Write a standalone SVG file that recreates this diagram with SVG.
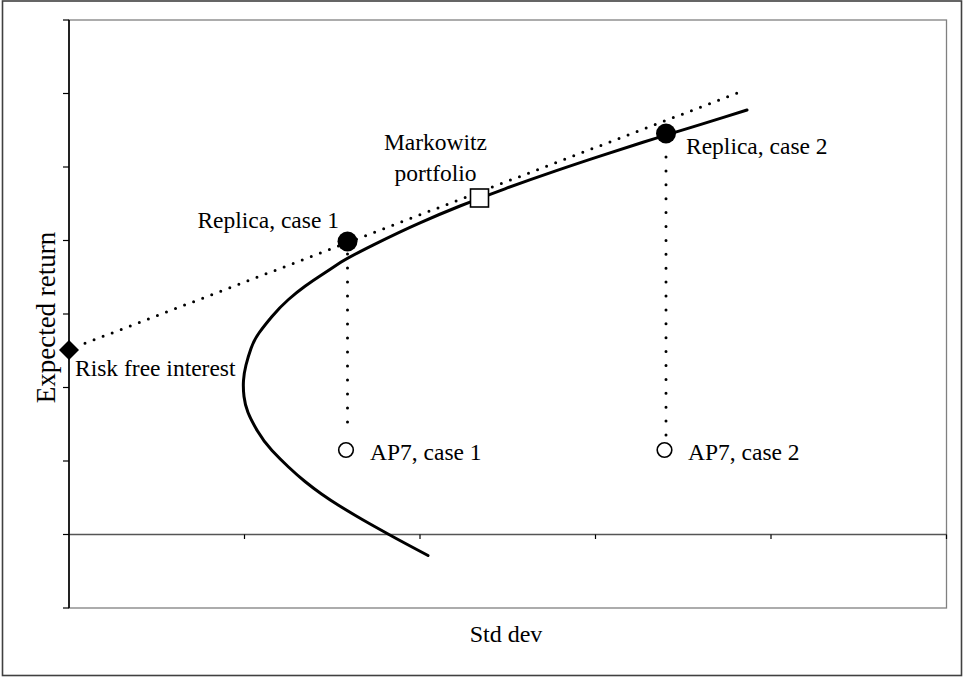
<svg xmlns="http://www.w3.org/2000/svg" width="964" height="677" viewBox="0 0 964 677">
<style>
text{font-family:"Liberation Serif","Times New Roman",serif;font-size:23.5px;fill:#000}
.tick{stroke:#000;stroke-width:1.2}
.dot{fill:none;stroke:#000;stroke-width:3;stroke-linecap:round}
</style>
<rect x="0" y="0" width="964" height="677" fill="#fff"/>
<rect x="2.5" y="1" width="959" height="674.5" fill="none" stroke="#404040" stroke-width="1.6"/>
<g id="plot-area">
<rect x="69" y="20" width="877.5" height="588" fill="none" stroke="#808080" stroke-width="1.3"/>
<line x1="69" y1="534.5" x2="946.5" y2="534.5" stroke="#555" stroke-width="1.4"/>
<line x1="69" y1="20" x2="69" y2="608" stroke="#000" stroke-width="1.6"/>
<g class="tick">
<line x1="63" y1="20" x2="69" y2="20"/>
<line x1="63" y1="93.5" x2="69" y2="93.5"/>
<line x1="63" y1="167" x2="69" y2="167"/>
<line x1="63" y1="240.5" x2="69" y2="240.5"/>
<line x1="63" y1="314" x2="69" y2="314"/>
<line x1="63" y1="387.5" x2="69" y2="387.5"/>
<line x1="63" y1="461" x2="69" y2="461"/>
<line x1="63" y1="534.5" x2="69" y2="534.5"/>
<line x1="63" y1="608" x2="69" y2="608"/>
<line x1="244.5" y1="534.5" x2="244.5" y2="539"/>
<line x1="420" y1="534.5" x2="420" y2="539"/>
<line x1="595.5" y1="534.5" x2="595.5" y2="539"/>
<line x1="771" y1="534.5" x2="771" y2="539"/>
<line x1="946.5" y1="534.5" x2="946.5" y2="539"/>
</g>
<text x="0" y="0" text-anchor="middle" style="font-size:27px" transform="translate(55,317.5) rotate(-90)">Expected return</text>
<text x="506" y="642" text-anchor="middle" style="font-size:24px">Std dev</text>
</g>
<g id="connectors">
<path id="frontier" d="M428 555.5 L412.5 547.25 Q397 539 388.5 534.25 Q380 529.5 371.5 524.75 Q363 520 355 515.25 Q347 510.5 338.5 505.25 Q330 500 321.5 494 Q313 488 305 481.5 Q297 475 288.5 467 Q280 459 272 450.5 Q264 442 257.5 431 Q251 420 248 412.5 Q245 405 244 396.5 Q243 388 243.5 380.5 Q244 373 246 365 Q248 357 251 348.5 Q254 340 259 333 Q264 326 272 316.5 Q280 307 288.5 299.5 Q297 292 305 286.25 Q313 280.5 321.5 275 Q330 269.5 338.5 263.75 Q347 258 373.5 244.8 Q400 231.6 420 222.8 Q440 214 460 206 Q480 198 505 188.8 Q530 179.6 555 171.1 Q580 162.6 600 156.1 Q620 149.6 643 142.3 Q666 135 683 129.85 Q700 124.7 723.5 117.35 L747 110" fill="none" stroke="#000" stroke-width="3" stroke-linejoin="round" stroke-linecap="round"/>
<line id="capital-market-line" class="dot" x1="85" y1="343.3" x2="736.7" y2="93.3" stroke-dasharray="0 9.694"/>
<line id="drop-1" class="dot" x1="347.5" y1="254" x2="347.5" y2="436" stroke-dasharray="0 14"/>
<line id="drop-2" class="dot" x1="666" y1="157" x2="666" y2="435" stroke-dasharray="0 13.9"/>
</g>
<g id="risk-free">
<polygon points="69,340 79,350 69,360 59,350" fill="#000"/>
<text x="75" y="376">Risk free interest</text>
</g>
<g id="replica-1">
<circle cx="347.5" cy="241.5" r="10" fill="#000"/>
<text x="339" y="228" text-anchor="end">Replica, case 1</text>
</g>
<g id="markowitz">
<rect x="470.5" y="189" width="18" height="18" fill="#fff" stroke="#000" stroke-width="1.6"/>
<text x="435.5" y="150" text-anchor="middle">Markowitz</text>
<text x="435.5" y="181" text-anchor="middle">portfolio</text>
</g>
<g id="replica-2">
<circle cx="666" cy="133.5" r="10" fill="#000"/>
<text x="686" y="154">Replica, case 2</text>
</g>
<g id="ap7-1">
<circle cx="346" cy="450" r="7.3" fill="#fff" stroke="#000" stroke-width="1.6"/>
<text x="370" y="460">AP7, case 1</text>
</g>
<g id="ap7-2">
<circle cx="664.5" cy="450" r="7.3" fill="#fff" stroke="#000" stroke-width="1.6"/>
<text x="688" y="460">AP7, case 2</text>
</g>
</svg>
